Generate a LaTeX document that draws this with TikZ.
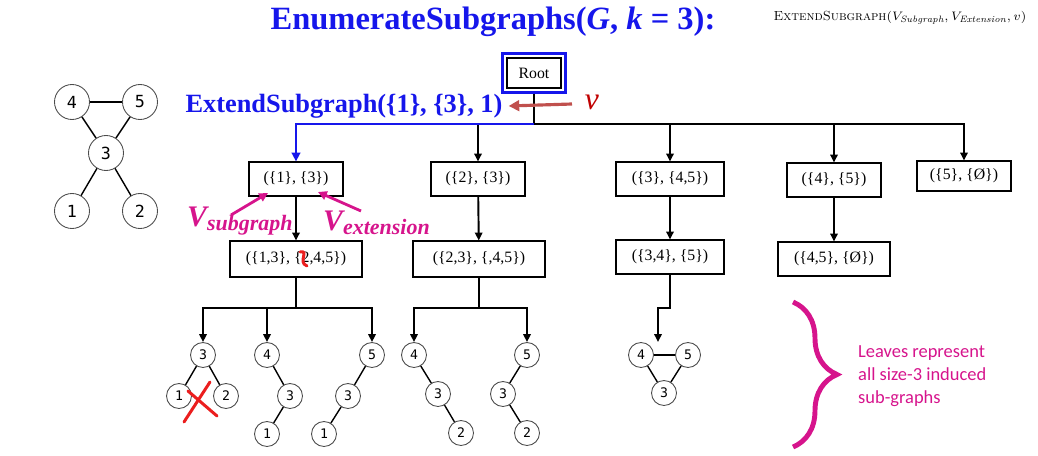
\documentclass[tikz,border=0pt]{standalone}
\usepackage{fontspec}
\newfontfamily\timesfont{Liberation Serif}
\newfontfamily\digitfont{DejaVu Sans Mono}
\newfontfamily\notefont{Carlito}
\definecolor{algoblue}{RGB}{22,22,235}
\definecolor{notepink}{RGB}{214,20,140}
\definecolor{vred}{RGB}{192,80,77}
\definecolor{darkred}{RGB}{192,0,0}
\definecolor{crossred}{RGB}{235,30,30}
\usetikzlibrary{arrows.meta, positioning, fit, decorations.pathreplacing}
\tikzset{
	state/.style={rectangle, draw=black, line width=0.6pt, fill=white, minimum width=1.88cm, minimum height=0.68cm, inner sep=1pt, font=\timesfont\fontsize{9}{10}\selectfont},
	wstate/.style={state, minimum width=2.16cm},
	xstate/.style={state, minimum width=2.64cm, minimum height=0.72cm},
	vtx/.style={circle, draw=black!70, line width=0.5pt, fill=white, minimum size=0.5cm, inner sep=0pt, font=\digitfont\fontsize{7.5}{8}\selectfont},
	bigvtx/.style={vtx, minimum size=0.7cm, font=\digitfont\fontsize{9.5}{10}\selectfont},
	link/.style={line width=1.1pt},
	tree/.style={link, -{Triangle[length=4.5pt, width=4.2pt]}},
	bluetree/.style={tree, line width=1.7pt, draw=algoblue, -{Triangle[length=5pt, width=4.8pt]}},
	gedge/.style={line width=0.8pt},
	pinkarrow/.style={-{Triangle[length=5pt, width=5pt]}, line width=1.6pt, draw=notepink},
	vrow/.style={-{Triangle[length=6pt, width=6pt]}, line width=1.8pt, draw=vred},
	pinktext/.style={text=notepink, font=\timesfont\bfseries\itshape},
	cross/.style={draw=crossred, line width=1.7pt, line cap=round},
}

\begin{document}
\begin{tikzpicture}[x=0.02cm, y=-0.02cm]
	\useasboundingbox (0,0) rectangle (1038,456);
	% headings
	\node[text=algoblue, font=\timesfont\bfseries\fontsize{18.5}{20}\selectfont] (title) at (493,22) {EnumerateSubgraphs(\textit{G}, \textit{k} = 3):};
	\node[font=\fontsize{7.5}{9}\selectfont] (sig) at (900,18) {\textsc{ExtendSubgraph}$(V_{\mathit{Subgraph}}, V_{\mathit{Extension}}, v)$};
	% input graph
	\node[bigvtx] (g4) at (72,102) {4};
	\node[bigvtx] (g5) at (140,102) {5};
	\node[bigvtx] (g3) at (106,153) {3};
	\node[bigvtx] (g1) at (72,211) {1};
	\node[bigvtx] (g2) at (140,211) {2};
	\draw[gedge] (g4) -- (g5);
	\draw[gedge] (g4) -- (g3);
	\draw[gedge] (g5) -- (g3);
	\draw[gedge] (g3) -- (g1);
	\draw[gedge] (g3) -- (g2);
	% search tree
	\node[state, minimum width=1.08cm, minimum height=0.6cm] (root) at (534,73) {Root};
	\node[draw=algoblue, line width=2pt, fit=(root), inner sep=2.2pt] (rootframe) {};
	\coordinate (hub) at (534,124);
	\node[state] (s1) at (296,179) {(\{1\}, \{3\})};
	\node[state] (s2) at (478,179) {(\{2\}, \{3\})};
	\node[wstate] (s3) at (670,179) {(\{3\}, \{4,5\})};
	\node[state] (s4) at (834,180) {(\{4\}, \{5\})};
	\node[state, minimum height=0.6cm] (s5) at (964,176) {(\{5\}, \{Ø\})};
	\node[xstate] (s13) at (296,259) {(\{1,3\}, \{2,4,5\})};
	\node[xstate] (s23) at (479,259) {(\{2,3\}, \{,4,5\})};
	\node[wstate] (s34) at (670,257) {(\{3,4\}, \{5\})};
	\node[wstate, minimum width=2.24cm] (s45) at (834,259) {(\{4,5\}, \{Ø\})};
	\draw[link] (rootframe) -- (hub);
	\draw[tree] (hub) -| (s2);
	\draw[tree] (hub) -| (s3);
	\draw[tree] (hub) -| (s4);
	\draw[tree] (hub) -| (s5);
	\draw[bluetree] (hub) -| (s1);
	\draw[tree] (s1) -- (s13);
	\draw[tree] (s2) -- (s23);
	\draw[tree] (s3) -- (s34);
	\draw[tree] (s4) -- (s45);
	% leaves
	\node[vtx] (la3) at (203,355) {3};
	\node[vtx] (la1) at (179,396) {1};
	\node[vtx] (la2) at (226,396) {2};
	\node[vtx] (lb4) at (267,355) {4};
	\node[vtx] (lb3) at (290,396) {3};
	\node[vtx] (lb1) at (267,434) {1};
	\node[vtx] (lc5) at (372,355) {5};
	\node[vtx] (lc3) at (348,396) {3};
	\node[vtx] (lc1) at (324,434) {1};
	\node[vtx] (ld4) at (414,355) {4};
	\node[vtx] (ld3) at (438,394) {3};
	\node[vtx] (ld2) at (461,433) {2};
	\node[vtx] (le5) at (527,355) {5};
	\node[vtx] (le3) at (503,394) {3};
	\node[vtx] (le2) at (527,433) {2};
	\node[vtx] (lf4) at (641,355) {4};
	\node[vtx] (lf5) at (688,355) {5};
	\node[vtx] (lf3) at (664,393) {3};
	\draw[gedge] (la3) -- (la1);
	\draw[gedge] (la3) -- (la2);
	\draw[gedge] (lb4) -- (lb3);
	\draw[gedge] (lb3) -- (lb1);
	\draw[gedge] (lc5) -- (lc3);
	\draw[gedge] (lc3) -- (lc1);
	\draw[gedge] (ld4) -- (ld3);
	\draw[gedge] (ld3) -- (ld2);
	\draw[gedge] (le5) -- (le3);
	\draw[gedge] (le3) -- (le2);
	\draw[gedge] (lf4) -- (lf5);
	\draw[gedge] (lf4) -- (lf3);
	\draw[gedge] (lf5) -- (lf3);
	\coordinate (fork13) at (296,308);
	\coordinate (fork23) at (479,308);
	\coordinate (fork34) at (670,308);
	\coordinate (jog) at (658,308);
	\coordinate (tri) at (658,342);
	\draw[link] (s13) -- (fork13);
	\draw[tree] (fork13) -| (la3);
	\draw[tree] (fork13) -| (lb4);
	\draw[tree] (fork13) -| (lc5);
	\draw[link] (s23) -- (fork23);
	\draw[tree] (fork23) -| (ld4);
	\draw[tree] (fork23) -| (le5);
	\draw[tree] (s34) -- (fork34) -- (jog) -- (tri);
	% annotations
	\node[text=algoblue, font=\timesfont\bfseries\fontsize{15}{16}\selectfont] (call) at (344,106) {ExtendSubgraph(\{1\}, \{3\}, 1)};
	\node[text=darkred, font=\timesfont\itshape\fontsize{18}{18}\selectfont] (vlab) at (592,102) {v};
	\coordinate (vtail) at (572,104);
	\draw[vrow] (vtail) -- (call.east);
	\node[pinktext, anchor=west] (vsub) at (181,221) {{\fontsize{17}{17}\selectfont V}\raisebox{-0.5ex}{\fontsize{12.5}{12.5}\selectfont subgraph}};
	\node[pinktext, anchor=west] (vext) at (317,223) {{\fontsize{17}{17}\selectfont V}\raisebox{-0.5ex}{\fontsize{12.5}{12.5}\selectfont extension}};
	\coordinate (subtail) at (231,215);
	\coordinate (subtip) at (268,193);
	\coordinate (exttail) at (361,211);
	\coordinate (exttip) at (318,192);
	\draw[pinkarrow] (subtail) -- (subtip);
	\draw[pinkarrow] (exttail) -- (exttip);
	% crossed out parts
	\draw[cross] (300,252) .. controls (310,250) and (297,262) .. (307,266);
	\draw[cross] (184,422) -- (210,382);
	\draw[cross] (188,391) -- (217,416);
	% brace and note
	\draw[draw=notepink, line width=2.8pt, decorate, decoration={brace, amplitude=0.88cm}] (793,302) -- (793,447);
	\node[text=notepink, anchor=west, align=left, font=\notefont\fontsize{10.5}{13}\selectfont] (note) at (852,376) {Leaves represent\\all size-3 induced\\sub-graphs};
\end{tikzpicture}
\end{document}
